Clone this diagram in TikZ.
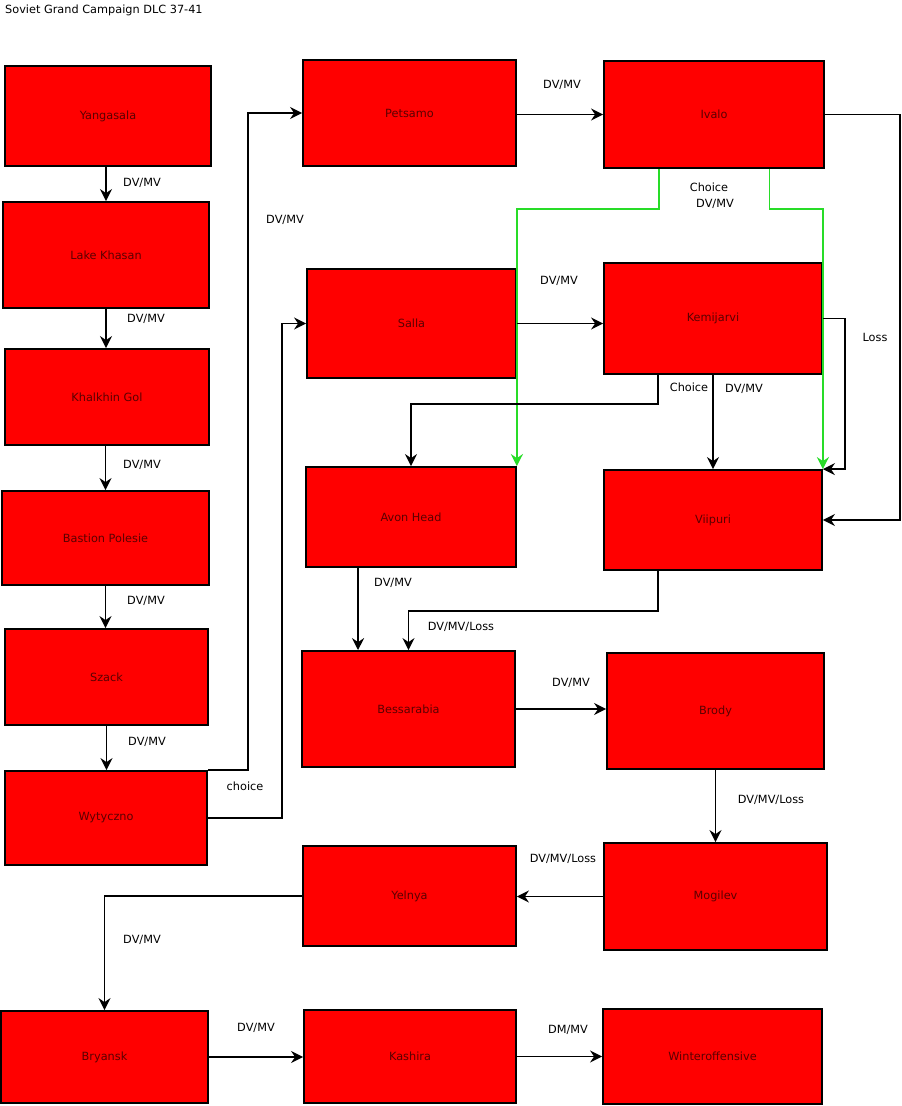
\documentclass[tikz,border=0pt]{standalone}
\usepackage{fontspec}
\setmainfont{DejaVu Sans}
\usetikzlibrary{arrows.meta,calc}
\definecolor{boxred}{RGB}{255,0,0}
\definecolor{txtred}{RGB}{90,0,0}
\definecolor{lgreen}{RGB}{40,220,40}
\tikzset{
  box/.style={draw=black, line width=1.8pt, fill=boxred, text=txtred, inner sep=0pt, font=\fontsize{11.3}{13}\selectfont},
  arr/.style={draw=black, line width=1.9pt, -{Stealth[length=12pt,width=12pt,inset=4pt]}},
  garr/.style={draw=lgreen, line width=1.9pt, -{Stealth[length=12pt,width=12pt,inset=4pt]}},
  lbl/.style={inner sep=0pt, text=black, font=\fontsize{11.3}{13}\selectfont},
}
\newcommand{\bx}[6]{\node[box, minimum width=#4pt, minimum height=#5pt] (#1) at (#2,#3) {#6};}
\begin{document}
\begin{tikzpicture}[x=1pt,y=-1pt]
\useasboundingbox[fill=white] (0,0) rectangle (902,1106);
\node[lbl, anchor=west] (title) at (5,10) {Soviet Grand Campaign DLC 37-41};
% left column
\bx{yang}{108}{116}{206}{100}{Yangasala}
\bx{lake}{106}{255}{206}{106}{Lake Khasan}
\bx{khal}{107}{397}{204}{96}{Khalkhin Gol}
\bx{bast}{105.5}{538}{207}{94}{Bastion Polesie}
\bx{szack}{106.5}{677}{203}{96}{Szack}
\bx{wyty}{106}{818}{202}{94}{Wytyczno}
\bx{bryansk}{104.5}{1057}{207}{92}{Bryansk}
% middle column
\bx{pets}{409.5}{113}{213}{106}{Petsamo}
\bx{salla}{411.5}{323.5}{209}{109}{Salla}
\bx{avon}{411}{517}{210}{100}{Avon Head}
\bx{bess}{408.5}{709}{213}{116}{Bessarabia}
\bx{yelnya}{409.5}{896}{213}{100}{Yelnya}
\bx{kashira}{410}{1056.5}{212}{93}{Kashira}
% right column
\bx{ivalo}{714}{114.5}{220}{107}{Ivalo}
\bx{kemi}{713}{318.5}{218}{111}{Kemijarvi}
\bx{viip}{713}{520}{218}{100}{Viipuri}
\bx{brody}{715.5}{711}{217}{116}{Brody}
\bx{mogilev}{715.5}{896.5}{223}{107}{Mogilev}
\bx{winter}{712.5}{1056.5}{219}{95}{Winteroffensive}
% helper coordinates on box edges
\coordinate (iv1) at ($(ivalo.south west)!0.25!(ivalo.south east)$);
\coordinate (iv2) at ($(ivalo.south west)!0.75!(ivalo.south east)$);
\coordinate (k1) at ($(kemi.south west)!0.25!(kemi.south east)$);
\coordinate (a1) at ($(avon.south west)!0.25!(avon.south east)$);
\coordinate (v1) at ($(viip.south west)!0.25!(viip.south east)$);
% left column connectors
\draw[arr] (yang.south -| lake.north) -- (lake.north);
\draw[arr] (lake.south) -- (lake.south |- khal.north);
\draw[arr] (khal.south -| bast.north) -- (bast.north);
\draw[arr] (bast.south) -- (bast.south |- szack.north);
\draw[arr] (szack.south) -- (szack.south |- wyty.north);
\draw[arr] (wyty.north east) -- ([xshift=40pt]wyty.north east) |- (pets.west);
\draw[arr] (wyty.east) -- ([xshift=74pt]wyty.east) |- (salla.west);
% top
\draw[arr] (ivalo.west -| pets.east) -- (ivalo.west);
\draw[garr] (iv1) -- ++(0,40) -| (avon.north east);
\draw[garr] (iv2) -- ++(0,40) -| (viip.north east);
\draw[arr] (ivalo.east) -- ++(75,0) |- (viip.east);
\draw[arr] (salla.east) -- (salla.east -| kemi.west);
\draw[arr] (k1) -- ++(0,29) -| (avon.north);
\draw[arr] (kemi.south) -- (kemi.south |- viip.north);
\draw[arr] (kemi.east) -- ++(22,0) |- (viip.north east);
\draw[arr] (a1) -- (a1 |- bess.north);
\draw[arr] (v1) -- ++(0,40) -| (bess.north);
\draw[arr] (bess.east) -- (bess.east -| brody.west);
\draw[arr] (brody.south) -- (brody.south |- mogilev.north);
\draw[arr] (mogilev.west) -- (mogilev.west -| yelnya.east);
\draw[arr] (yelnya.west) -| (bryansk.north);
\draw[arr] (bryansk.east) -- (bryansk.east -| kashira.west);
\draw[arr] (kashira.east) -- (kashira.east -| winter.west);
% labels
\node[lbl] (l1) at (142,183) {DV/MV};
\node[lbl] (l2) at (146,319) {DV/MV};
\node[lbl] (l3) at (142,465) {DV/MV};
\node[lbl] (l4) at (146,601) {DV/MV};
\node[lbl] (l5) at (147,742) {DV/MV};
\node[lbl] (l6) at (285,220) {DV/MV};
\node[lbl] (l7) at (245,786) {choice};
\node[lbl] (l8) at (562,85) {DV/MV};
\node[lbl] (l9) at (709,187) {Choice};
\node[lbl] (l10) at (715,204) {DV/MV};
\node[lbl] (l11) at (875,337) {Loss};
\node[lbl] (l12) at (559,281) {DV/MV};
\node[lbl] (l13) at (689,387) {Choice};
\node[lbl] (l14) at (744,389) {DV/MV};
\node[lbl] (l15) at (393,583) {DV/MV};
\node[lbl] (l16) at (461,627) {DV/MV/Loss};
\node[lbl] (l17) at (571,683) {DV/MV};
\node[lbl] (l18) at (771,800) {DV/MV/Loss};
\node[lbl] (l19) at (563,859) {DV/MV/Loss};
\node[lbl] (l20) at (142,940) {DV/MV};
\node[lbl] (l21) at (256,1028) {DV/MV};
\node[lbl] (l22) at (568,1030) {DM/MV};
\end{tikzpicture}
\end{document}
